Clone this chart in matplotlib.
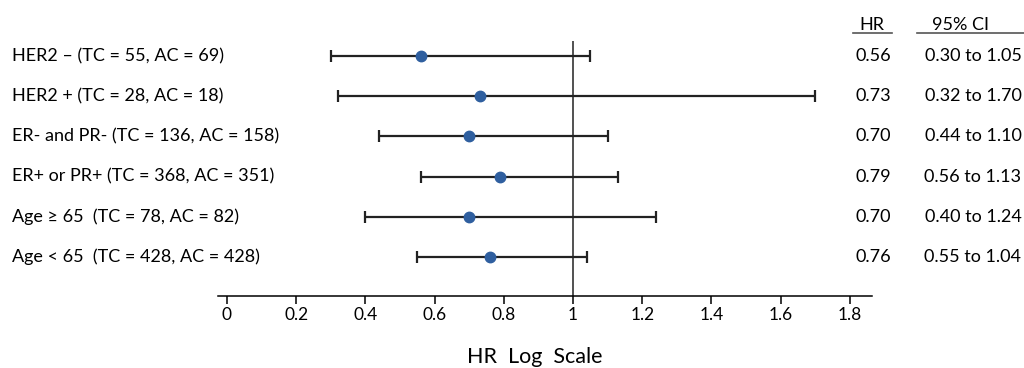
import numpy as np
import matplotlib.pyplot as plt
import matplotlib.transforms as mtransforms

plt.rcParams['font.family'] = ['Lato', 'DejaVu Sans']

labels = ["HER2 \u2013 (TC = 55, AC = 69)",
          "HER2 + (TC = 28, AC = 18)",
          "ER- and PR- (TC = 136, AC = 158)",
          "ER+ or PR+ (TC = 368, AC = 351)",
          "Age \u2265 65  (TC = 78, AC = 82)",
          "Age < 65  (TC = 428, AC = 428)"]
hr = [0.56, 0.73, 0.70, 0.79, 0.70, 0.76]
ci_low = [0.30, 0.32, 0.44, 0.56, 0.40, 0.55]
ci_high = [1.05, 1.70, 1.10, 1.13, 1.24, 1.04]
xticks = [0, 0.2, 0.4, 0.6, 0.8, 1, 1.2, 1.4, 1.6, 1.8]
xticklabels = ["0", "0.2", "0.4", "0.6", "0.8", "1", "1.2", "1.4", "1.6", "1.8"]

W, H = 1024, 368
fig = plt.figure(figsize=(W / 100, H / 100), dpi=100)
# axes spans the drawn baseline: x 218..872 px, y 41..296 px
ax = fig.add_axes([218 / W, (H - 296) / H, (872 - 218) / W, (296 - 41) / H])

n = len(hr)
y = np.arange(n)[::-1]  # first row on top
row_px = 40.2
ax.set_xlim(-9 / 346, 645 / 346)
ax.set_ylim(-(296 - 257) / row_px, (n - 1) + (56 - 41) / row_px)

hr_a = np.array(hr)
xerr = [hr_a - np.array(ci_low), np.array(ci_high) - hr_a]
ax.errorbar(hr_a, y, xerr=xerr, fmt='o', ecolor='#222222',
            elinewidth=1.6, capsize=4.5, capthick=1.6,
            markerfacecolor='#2f5f9f', markeredgecolor='#2f5f9f', markersize=7.5,
            zorder=3)
ax.axvline(1, color='#222222', lw=1.1, zorder=2)

for s in ['top', 'right', 'left']:
    ax.spines[s].set_visible(False)
ax.spines['bottom'].set_linewidth(1.1)
ax.set_yticks([])
ax.set_xticks(xticks)
ax.set_xticklabels(xticklabels, fontsize=12.5)
ax.tick_params(axis='x', direction='out', length=6, width=1.1, pad=2)
ax.set_xlabel("HR  Log  Scale", fontsize=15.5)
ax.xaxis.set_label_coords((535 - 218) / (872 - 218), -0.2)

# row labels and value columns
tr = mtransforms.blended_transform_factory(fig.transFigure, ax.transData)
for yi, lab, h, lo, hi in zip(y, labels, hr, ci_low, ci_high):
    ax.text(12 / W, yi, lab, transform=tr, ha='left', va='center', fontsize=13, clip_on=False)
    ax.text(873 / W, yi, f"{h:.2f}", transform=tr, ha='center', va='center', fontsize=13, clip_on=False)
    ax.text(973 / W, yi, f"{lo:.2f} to {hi:.2f}", transform=tr, ha='center', va='center',
            fontsize=13, clip_on=False)

# column headers with underlines
fig.text(872 / W, 1 - 25 / H, "HR", ha='center', va='center', fontsize=13)
fig.text(961 / W, 1 - 25 / H, "95% CI", ha='center', va='center', fontsize=13)
fig.add_artist(plt.Line2D([853 / W, 892 / W], [1 - 33 / H, 1 - 33 / H], color='#555555', lw=1.2))
fig.add_artist(plt.Line2D([917 / W, 1024 / W], [1 - 33 / H, 1 - 33 / H], color='#555555', lw=1.2))

fig.savefig("out.png", dpi=100)
